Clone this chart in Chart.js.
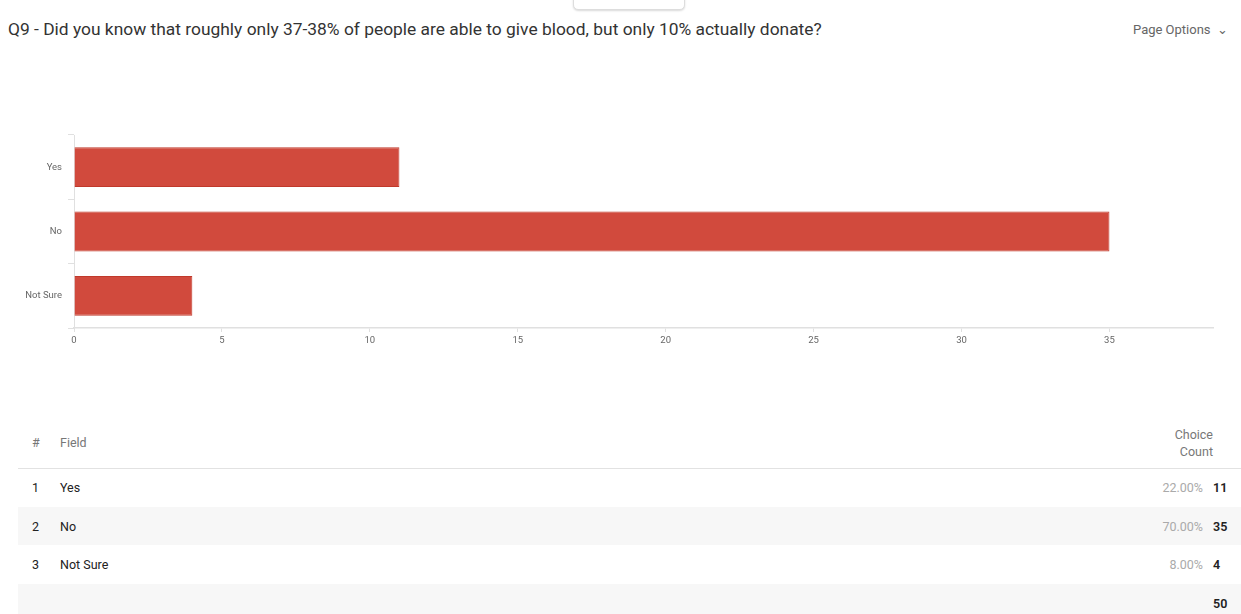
<!DOCTYPE html>
<html>
<head>
<meta charset="utf-8">
<script src="https://cdn.jsdelivr.net/npm/chart.js@4/dist/chart.umd.min.js"></script>
<style>
  html,body{margin:0;padding:0;background:#fff;width:1241px;height:614px;overflow:hidden;font-family:Roboto,"Open Sans",Arial,sans-serif;}
  #title{position:absolute;left:8px;top:19px;font-size:17.4px;color:#333;white-space:nowrap;}
  #opts{position:absolute;left:1133px;top:22px;font-size:13px;color:#666;white-space:nowrap;}
  #tab{position:absolute;left:573px;top:-6px;width:110px;height:14px;border:1px solid #ddd;border-radius:0 0 5px 5px;box-shadow:0 1px 2px rgba(0,0,0,0.15);background:#fff;}
  #wrap{position:absolute;left:0;top:100px;width:1241px;height:260px;}
  table{position:absolute;left:18px;top:418px;width:1223px;border-collapse:collapse;font-size:12.5px;}
  td,th{padding:0;font-weight:normal;box-sizing:border-box;}
  .hdr th{height:50px;color:#777;vertical-align:middle;border-bottom:1px solid #e2e2e2;}
  .row td{height:38.7px;color:#222;}
  .gray td{background:#f7f7f7;}
  td.num,th.num{width:42px;text-align:left;padding-left:14px;}
  .row td.pct{color:#aaa;text-align:right;padding-right:10px;}
  .row td.cnt{width:28px;text-align:left;padding-left:0;font-weight:600;color:#222;}
</style>
</head>
<body>
<div id="tab"></div>
<div id="title">Q9 - Did you know that roughly only 37-38% of people are able to give blood, but only 10% actually donate?</div>
<div id="opts">Page Options &nbsp;⌄</div>
<div id="wrap"><canvas id="c" width="1241" height="260"></canvas></div>
<table id="tbl"></table>
<script>
const categories = ["Yes", "No", "Not Sure"];
const counts = [11, 35, 4];
const percents = ["22.00%", "70.00%", "8.00%"];
const total = 50;
const xTicks = [0, 5, 10, 15, 20, 25, 30, 35];

const axisColor = '#e0e0e0';
new Chart(document.getElementById('c'), {
  type: 'bar',
  data: {
    labels: categories,
    datasets: [{
      data: counts,
      backgroundColor: '#d14a3d',
      borderColor: '#c0392b',
      borderWidth: 1,
      categoryPercentage: 1,
      barPercentage: 0.62
    }]
  },
  options: {
    indexAxis: 'y',
    responsive: false,
    animation: false,
    layout: { padding: { top: 35, right: 28, left: 0, bottom: 0 } },
    plugins: { legend: { display: false }, tooltip: { enabled: false } },
    scales: {
      x: {
        min: 0, max: 38.5,
        afterBuildTicks: s => { s.ticks = xTicks.map(v => ({ value: v })); },
        afterFit: s => { s.height = 32; },
        ticks: { color: '#666', font: { size: 9.5, family: 'Roboto' }, padding: 3, maxRotation: 0 },
        grid: { drawOnChartArea: false, tickLength: 4, color: axisColor },
        border: { color: axisColor, width: 1.5 }
      },
      y: {
        afterFit: s => { s.width = 74; },
        ticks: { color: '#666', font: { size: 9.5, family: 'Roboto' }, padding: 6 },
        grid: { drawOnChartArea: false, tickLength: 6, offset: true, color: axisColor },
        border: { color: axisColor, width: 1 }
      }
    }
  }
});

const tbl = document.getElementById('tbl');
let html = '<tr class="hdr"><th class="num">#</th><th style="text-align:left">Field</th><th colspan="2" style="text-align:right;padding-right:28px;line-height:17px">Choice<br>Count</th></tr>';
categories.forEach((c, i) => {
  html += '<tr class="row' + (i % 2 === 1 ? ' gray' : '') + '"><td class="num">' + (i + 1) + '</td><td>' + c + '</td><td class="pct">' + percents[i] + '</td><td class="cnt">' + counts[i] + '</td></tr>';
});
html += '<tr class="row gray"><td class="num"></td><td></td><td class="pct"></td><td class="cnt">' + total + '</td></tr>';
tbl.innerHTML = html;
</script>
</body>
</html>
